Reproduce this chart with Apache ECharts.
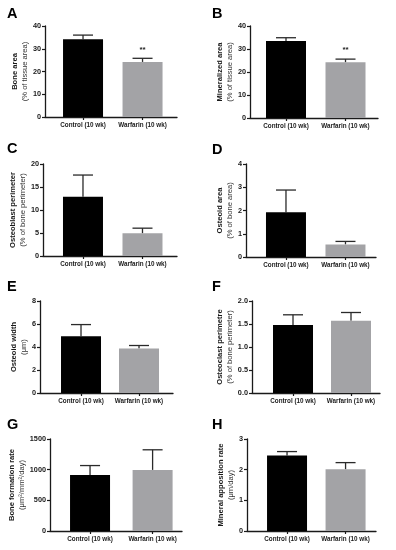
<!DOCTYPE html>
<html>
<head>
<meta charset="utf-8">
<script src="https://cdn.jsdelivr.net/npm/echarts@6/dist/echarts.min.js"></script>
<style>
html,body{margin:0;padding:0;background:#fff;}
#chart{width:396px;height:550px;}
</style>
</head>
<body>
<div id="chart"></div>
<script>
// ---- data ----
const categories = ['Control (10 wk)', 'Warfarin (10 wk)'];
const panelLetters = ['A', 'B', 'C', 'D', 'E', 'F', 'G', 'H'];
const yTitleMain = ['Bone area', 'Mineralized area', 'Osteoblast perimeter', 'Osteoid area',
  'Osteoid width', 'Osteoclast perimetre', 'Bone formation rate', 'Mineral apposition rate'];
const yTitleUnit = ['(% of tissue area)', '(% of tissue area)', '(% of bone perimeter)', '(% of bone area)',
  '(\u03bcm)', '(% of bone perimeter)', '(\u03bcm\u00b2/mm\u00b2/day)', '(\u03bcm/day)'];
const controlMean = [34.2, 33.5, 12.9, 1.92, 4.94, 1.48, 914, 2.46];
const controlUpper = [36.0, 34.9, 17.6, 2.88, 5.95, 1.70, 1067, 2.59];
const warfarinMean = [24.2, 24.2, 4.93, 0.54, 3.87, 1.57, 996, 2.01];
const warfarinUpper = [25.8, 25.6, 6.05, 0.67, 4.13, 1.75, 1324, 2.23];
const yMax = [40, 40, 20, 4, 8, 2, 1500, 3];
const yInterval = [10, 10, 5, 1, 2, 0.5, 500, 1];
const yDecimals = [0, 0, 0, 0, 0, 1, 0, 0];
const significance = ['**', '**', '', '', '', '', '', ''];

// ---- layout (positions / styles) ----
const layout = [
  {left: 45, top: 26, width: 132, height: 91, xMin: 0.361, xMax: 2.579, nameGap: 12.5, lx: 7, ly: 6},
  {left: 250, top: 26, width: 128, height: 92, xMin: 0.395, xMax: 2.546, nameGap: 15, lx: 212, ly: 6},
  {left: 43, top: 164, width: 134, height: 92, xMin: 0.328, xMax: 2.58, nameGap: 9.5, lx: 7, ly: 141.5},
  {left: 246, top: 164, width: 130, height: 93, xMin: 0.328, xMax: 2.513, nameGap: 10.5, lx: 212, ly: 142},
  {left: 40, top: 301, width: 133, height: 92, xMin: 0.293, xMax: 2.586, nameGap: 6.5, lx: 7, ly: 279},
  {left: 252, top: 301, width: 128, height: 92, xMin: 0.293, xMax: 2.50, nameGap: 16.5, lx: 212, ly: 279},
  {left: 50, top: 439, width: 132, height: 92, xMin: 0.36, xMax: 2.47, nameGap: 20.5, lx: 7, ly: 417.5},
  {left: 247, top: 439, width: 129, height: 92, xMin: 0.316, xMax: 2.52, nameGap: 11.5, lx: 212, ly: 417.5}
];
const FONT = 'Liberation Sans, Arial, Helvetica, sans-serif';
const AXIS_COLOR = '#1a1a1a';
const ERR_COLOR = '#2a2a2a';
const BAR_COLORS = ['#000000', '#a3a3a6'];

const grids = [], xAxes = [], yAxes = [], series = [], titles = [];
layout.forEach((L, i) => {
  grids.push({left: L.left, top: L.top, width: L.width, height: L.height});
  titles.push({text: panelLetters[i], left: L.lx, top: L.ly, padding: 0,
    textStyle: {fontSize: 14.5, fontWeight: 'bold', color: '#000', fontFamily: FONT}});
  xAxes.push({
    type: 'value', gridIndex: i, min: L.xMin, max: L.xMax,
    splitLine: {show: false},
    axisLine: {show: true, onZero: false, lineStyle: {color: AXIS_COLOR, width: 1.3}},
    axisTick: {show: true, customValues: [1, 2], length: 3, lineStyle: {color: AXIS_COLOR, width: 1.2}},
    axisLabel: {show: true, customValues: [1, 2], margin: 5, fontSize: 6.3, fontWeight: 'bold',
      color: '#1a1a1a', fontFamily: FONT, formatter: v => categories[Math.round(v) - 1]}
  });
  yAxes.push({
    type: 'value', gridIndex: i, min: 0, max: yMax[i], interval: yInterval[i],
    splitLine: {show: false},
    axisLine: {show: true, onZero: false, lineStyle: {color: AXIS_COLOR, width: 1.3}},
    axisTick: {show: true, length: 3, lineStyle: {color: AXIS_COLOR, width: 1.2}},
    axisLabel: {margin: 4, fontSize: 7.3, fontWeight: 'bold', color: '#1a1a1a', fontFamily: FONT,
      formatter: v => v.toFixed(yDecimals[i])},
    name: '{b|' + yTitleMain[i] + '}\n{r|' + yTitleUnit[i] + '}',
    nameLocation: 'middle', nameRotate: 90, nameGap: L.nameGap,
    nameTextStyle: {
      fontFamily: FONT,
      rich: {
        b: {fontSize: 7.6, fontWeight: 'bold', color: '#1a1a1a', lineHeight: 10, fontFamily: FONT},
        r: {fontSize: 7.6, color: '#333', lineHeight: 10, fontFamily: FONT}
      }
    }
  });
  series.push({
    type: 'bar', xAxisIndex: i, yAxisIndex: i, barWidth: 40, silent: true,
    data: [
      {value: [1, controlMean[i]], itemStyle: {color: BAR_COLORS[0]}},
      {value: [2, warfarinMean[i]], itemStyle: {color: BAR_COLORS[1]}}
    ]
  });
  series.push({
    type: 'custom', xAxisIndex: i, yAxisIndex: i, silent: true,
    data: [[1, controlMean[i], controlUpper[i]], [2, warfarinMean[i], warfarinUpper[i]]],
    renderItem: function (params, api) {
      const x = api.value(0), m = api.value(1), u = api.value(2);
      const p0 = api.coord([x, m]);
      const p1 = api.coord([x, u]);
      const st = {stroke: ERR_COLOR, lineWidth: 1.3};
      return {type: 'group', children: [
        {type: 'line', shape: {x1: p0[0], y1: p0[1], x2: p1[0], y2: p1[1]}, style: st},
        {type: 'line', shape: {x1: p1[0] - 10, y1: p1[1], x2: p1[0] + 10, y2: p1[1]}, style: st}
      ]};
    }
  });
  if (significance[i]) {
    series.push({
      type: 'custom', xAxisIndex: i, yAxisIndex: i, silent: true,
      data: [[2, warfarinUpper[i]]],
      renderItem: function (params, api) {
        const p = api.coord([api.value(0), api.value(1)]);
        return {type: 'text', x: p[0], y: p[1] - 5,
          style: {text: significance[i], fill: '#222', fontSize: 8, fontWeight: 'bold',
            fontFamily: FONT, align: 'center', verticalAlign: 'bottom'}};
      }
    });
  }
});

const chart = echarts.init(document.getElementById('chart'), null, {renderer: 'canvas'});
chart.setOption({
  animation: false,
  backgroundColor: '#ffffff',
  title: titles,
  grid: grids,
  xAxis: xAxes,
  yAxis: yAxes,
  series: series
});
</script>
</body>
</html>
